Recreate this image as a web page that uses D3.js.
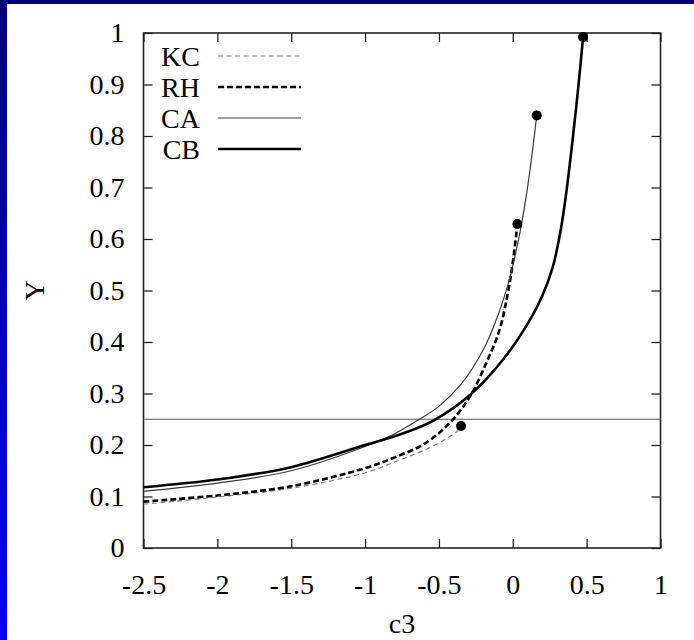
<!DOCTYPE html>
<html>
<head>
<meta charset="utf-8">
<script src="https://cdn.jsdelivr.net/npm/d3@7"></script>
<style>
  body { margin: 0; background: #fff; }
  text { font-family: "Liberation Serif", "DejaVu Serif", serif; fill: #000; }
</style>
</head>
<body>
<svg class="chart"></svg>
<script>
const width = 694,
  height = 640;

const xTicks = [-2.5, -2, -1.5, -1, -0.5, 0, 0.5, 1];
const yTicks = [0, 0.1, 0.2, 0.3, 0.4, 0.5, 0.6, 0.7, 0.8, 0.9, 1];
const refLevel = 0.25;
const names = ['KC', 'RH', 'CA', 'CB'];

// [c3, Y]
const kc = [
  [-2.5, 0.085], [-2, 0.099], [-1.5, 0.116], [-1, 0.146], [-0.8, 0.167],
  [-0.6, 0.19], [-0.5, 0.204], [-0.43, 0.216], [-0.38, 0.226], [-0.35, 0.237]
];
const rh = [
  [-2.5, 0.09], [-2, 0.102], [-1.5, 0.12], [-1, 0.155], [-0.8, 0.176],
  [-0.6, 0.202], [-0.43, 0.242], [-0.29, 0.294], [-0.18, 0.359], [-0.09, 0.423],
  [-0.04, 0.485], [-0.015, 0.525], [0.006, 0.568], [0.024, 0.61], [0.031, 0.629]
];
const ca = [
  [-2.5, 0.11], [-2, 0.126], [-1.5, 0.15], [-1, 0.197], [-0.8, 0.222],
  [-0.65, 0.247], [-0.5, 0.275], [-0.35, 0.318], [-0.2, 0.385], [-0.1, 0.452],
  [-0.02, 0.525], [0.05, 0.615], [0.105, 0.71], [0.15, 0.81], [0.162, 0.84]
];
const cb = [
  [-2.5, 0.118], [-2, 0.133], [-1.5, 0.157], [-1, 0.2], [-0.75, 0.222],
  [-0.54, 0.247], [-0.29, 0.297], [-0.06, 0.368], [0.12, 0.445], [0.2, 0.49],
  [0.27, 0.545], [0.32, 0.61], [0.36, 0.685], [0.4, 0.78], [0.44, 0.885], [0.476, 0.992]
];

const styles = {
  KC: { color: '#808080', w: 1.2, dash: '5,3.5' },
  RH: { color: '#000', w: 2.6, dash: '6,3' },
  CA: { color: '#3a3a3a', w: 1.2, dash: null },
  CB: { color: '#000', w: 2.6, dash: null }
};
const series = [kc, rh, ca, cb].map((pts, i) => ({ name: names[i], pts: pts }));

let x = d3.scaleLinear()
  .domain([-2.5, 1])
  .range([143.5, 660.5]);
let y = d3.scaleLinear()
  .domain([0, 1])
  .range([548, 33]);

let chart = d3.select(".chart")
  .attr("width", width)
  .attr("height", height);

// blue frame on the top and left edges
let grad = chart.append("defs").append("linearGradient")
  .attr("id", "edge")
  .attr("x1", 0).attr("y1", 0).attr("x2", 0).attr("y2", 1);
grad.append("stop").attr("offset", "0%").attr("stop-color", "#000078");
grad.append("stop").attr("offset", "100%").attr("stop-color", "#0000f0");
chart.select("defs").append("clipPath")
  .attr("id", "plot")
  .append("rect")
  .attr("x", x(-2.5)).attr("y", y(1))
  .attr("width", x(1) - x(-2.5)).attr("height", y(0) - y(1));

chart.append("rect").attr("width", width).attr("height", height).attr("fill", "#fff");
chart.append("rect").attr("width", 7).attr("height", height).attr("fill", "url(#edge)");
chart.append("rect").attr("width", width).attr("height", 4).attr("fill", "#000078");

// axes, ticks pointing inwards on all four sides
let fmt = d => String(d);
chart.append("g")
  .attr("class", "axis")
  .attr("transform", `translate(${x(-2.5)},0)`)
  .call(d3.axisLeft(y).tickValues(yTicks).tickFormat(fmt).tickSizeInner(-9).tickSizeOuter(0).tickPadding(19));
chart.append("g")
  .attr("class", "axis")
  .attr("transform", `translate(${x(1)},0)`)
  .call(d3.axisRight(y).tickValues(yTicks).tickFormat("").tickSizeInner(-9).tickSizeOuter(0));
chart.append("g")
  .attr("class", "axis")
  .attr("transform", `translate(0,${y(0)})`)
  .call(d3.axisBottom(x).tickValues(xTicks).tickFormat(fmt).tickSizeInner(-9).tickSizeOuter(0).tickPadding(26));
chart.append("g")
  .attr("class", "axis")
  .attr("transform", `translate(0,${y(1)})`)
  .call(d3.axisTop(x).tickValues(xTicks).tickFormat("").tickSizeInner(-9).tickSizeOuter(0));

chart.selectAll(".axis .domain").remove();
chart.selectAll(".axis line").attr("stroke", "#222").attr("stroke-width", 1.3);
chart.selectAll(".axis text")
  .attr("font-size", 28)
  .attr("font-family", '"Liberation Serif", serif')
  .attr("fill", "#000");

chart.append("rect")
  .attr("x", x(-2.5)).attr("y", y(1))
  .attr("width", x(1) - x(-2.5)).attr("height", y(0) - y(1))
  .attr("fill", "none")
  .attr("stroke", "#222")
  .attr("stroke-width", 1.6);

// reference level
chart.append("line")
  .attr("x1", x(-2.5)).attr("x2", x(1))
  .attr("y1", y(refLevel)).attr("y2", y(refLevel))
  .attr("stroke", "#555")
  .attr("stroke-width", 1.2);

let line = d3.line()
  .x(d => x(d[0]))
  .y(d => y(d[1]))
  .curve(d3.curveCatmullRom.alpha(0.5));

let plot = chart.append("g").attr("clip-path", "url(#plot)");
plot.selectAll("path.curve")
  .data(series)
  .enter().append("path")
  .attr("class", "curve")
  .attr("d", d => line(d.pts))
  .attr("fill", "none")
  .attr("stroke", d => styles[d.name].color)
  .attr("stroke-width", d => styles[d.name].w)
  .attr("stroke-dasharray", d => styles[d.name].dash);

chart.selectAll("circle.end")
  .data(series)
  .enter().append("circle")
  .attr("class", "end")
  .attr("cx", d => x(d.pts[d.pts.length - 1][0]))
  .attr("cy", d => y(d.pts[d.pts.length - 1][1]))
  .attr("r", 5)
  .attr("fill", "#000");

// legend
let legend = chart.append("g");
let rows = legend.selectAll("g")
  .data(series)
  .enter().append("g")
  .attr("transform", (d, i) => `translate(0,${56 + i * 31})`);
rows.append("text")
  .attr("x", 200)
  .attr("dy", "0.34em")
  .attr("text-anchor", "end")
  .attr("font-size", 28)
  .text(d => d.name);
rows.append("line")
  .attr("x1", 218).attr("x2", 301)
  .attr("stroke", d => styles[d.name].color)
  .attr("stroke-width", d => styles[d.name].w)
  .attr("stroke-dasharray", d => styles[d.name].dash);

// axis titles
chart.append("text")
  .attr("x", (x(-2.5) + x(1)) / 2)
  .attr("y", 633)
  .attr("text-anchor", "middle")
  .attr("font-size", 28)
  .text("c3");
chart.append("text")
  .attr("transform", `translate(44,${(y(0) + y(1)) / 2}) rotate(-90)`)
  .attr("text-anchor", "middle")
  .attr("font-size", 28)
  .text("Y");
</script>
</body>
</html>
